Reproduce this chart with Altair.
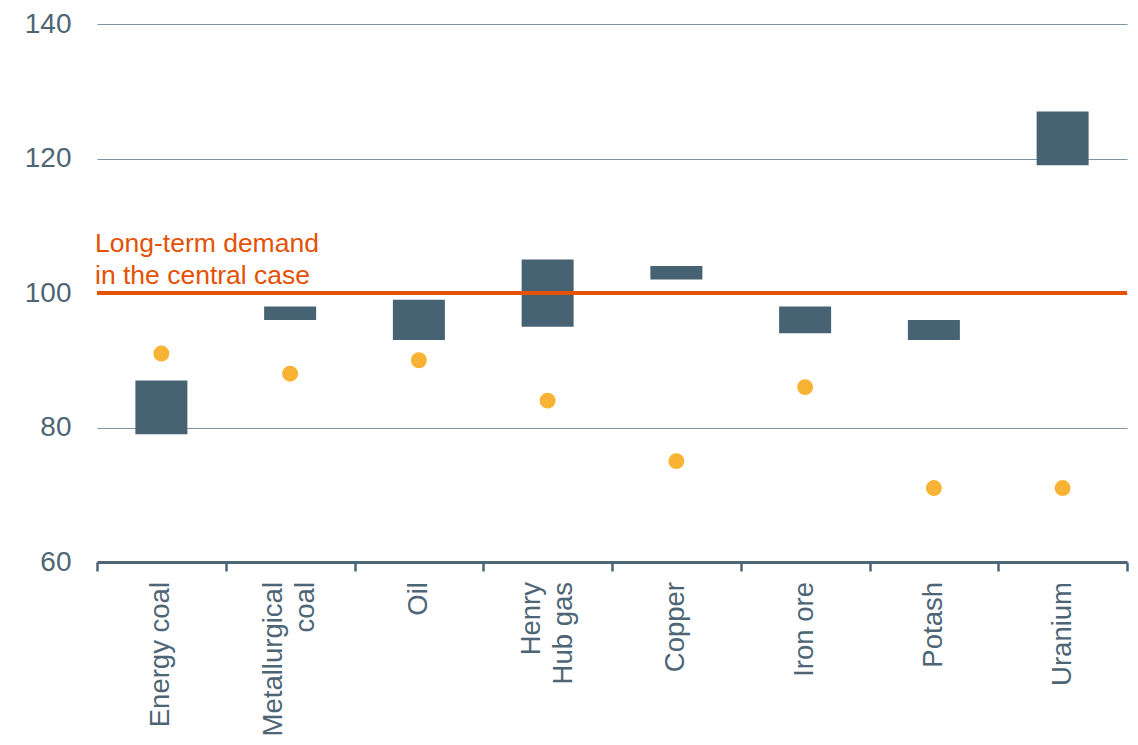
import altair as alt
import pandas as pd

categories = ["Energy coal", "Metallurgical|coal", "Oil", "Henry|Hub gas", "Copper", "Iron ore", "Potash", "Uranium"]
range_low = [79, 96, 93, 95, 102, 94, 93, 119]
range_high = [87, 98, 99, 105, 104, 98, 96, 127]
dot_values = [91, 88, 90, 84, 75, 86, 71, 71]
reference_level = [100]
reference_label = "Long-term demand\nin the central case"

df = pd.DataFrame({"cat": categories, "low": range_low, "high": range_high, "dot": dot_values})
ref = pd.DataFrame({"y": reference_level, "label": [reference_label]})

TEXT = "#4d6575"
BAR = "#476273"
DOT = "#F8B334"
RED = "#E35205"
FONT = "Liberation Sans"
H = 538

x = alt.X(
    "cat:N",
    sort=categories,
    scale=alt.Scale(paddingInner=0, paddingOuter=0),
    axis=alt.Axis(
        title=None,
        labels=False,
        tickBand="extent",
        tickSize=9,
        tickWidth=2.5,
        tickColor=TEXT,
        domainColor=TEXT,
        domainWidth=3,
        grid=False,
    ),
)

yscale = alt.Scale(domain=[60, 140], nice=False, zero=False)
yaxis = alt.Axis(
    title=None,
    values=[60, 80, 100, 120, 140],
    labelFontSize=28,
    labelColor=TEXT,
    labelFont=FONT,
    labelPadding=26,
    ticks=False,
    domain=False,
    grid=True,
    gridColor="#7f95a5",
    gridWidth=1,
)

bars = alt.Chart(df).mark_bar(size=52, color=BAR).encode(
    x=x,
    y=alt.Y("low:Q", scale=yscale, axis=yaxis),
    y2="high:Q",
)

dots = alt.Chart(df).mark_circle(size=254, color=DOT, opacity=1).encode(
    x=alt.X("cat:N", sort=categories),
    y=alt.Y("dot:Q"),
)

rule = alt.Chart(ref).mark_rule(color=RED, strokeWidth=4).encode(
    y=alt.Y("y:Q"),
)

label = alt.Chart(ref).mark_text(
    align="left",
    baseline="alphabetic",
    fontSize=26.5,
    font=FONT,
    color=RED,
    lineBreak="\n",
    lineHeight=32,
    dy=-41,
).encode(
    x=alt.value(-2),
    y=alt.Y("y:Q"),
    text="label:N",
)

text_style = dict(
    angle=270,
    align="right",
    baseline="middle",
    fontSize=27.5,
    font=FONT,
    color=TEXT,
    lineBreak="|",
    lineHeight=32,
)

cat_single = alt.Chart(df).transform_filter("indexof(datum.cat, '|') < 0").mark_text(**text_style).encode(
    x=alt.X("cat:N", sort=categories),
    y=alt.value(H + 20),
    text="cat:N",
)

cat_multi = alt.Chart(df).transform_filter("indexof(datum.cat, '|') >= 0").mark_text(dy=-16, **text_style).encode(
    x=alt.X("cat:N", sort=categories),
    y=alt.value(H + 20),
    text="cat:N",
)

chart = alt.layer(bars, rule, dots, label, cat_single, cat_multi).properties(
    width=1030,
    height=H,
    autosize=alt.AutoSizeParams(type="none"),
    padding={"left": 89, "top": 16, "right": 3, "bottom": 175},
).configure_view(stroke=None)

chart.save("out.html", embed_options={"renderer": "svg", "actions": False})
